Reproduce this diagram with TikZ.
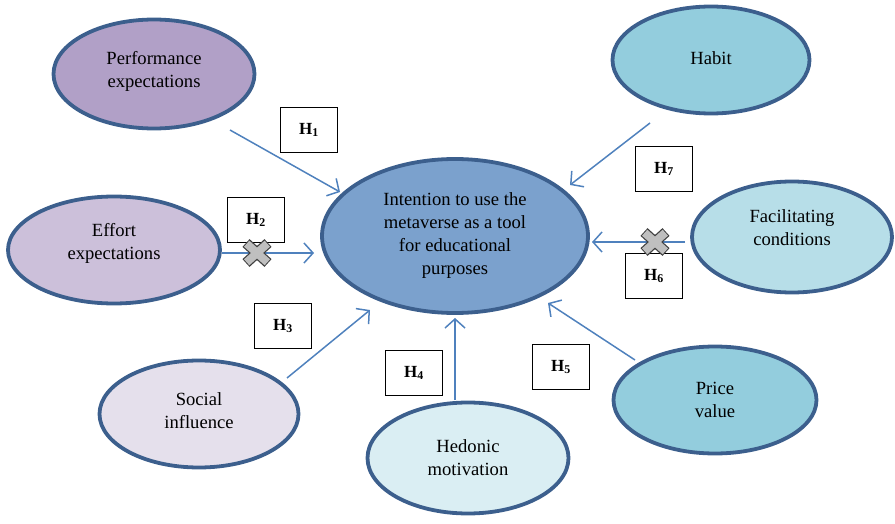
\documentclass[tikz,border=0pt]{standalone}
\usepackage{fontspec}
\setmainfont{Liberation Serif}
\usetikzlibrary{shapes.geometric,arrows.meta,calc}

\definecolor{rim}{HTML}{3C5F8D}
\definecolor{arrowblue}{HTML}{4F81BD}
\definecolor{perfcol}{HTML}{B1A0C7}
\definecolor{effcol}{HTML}{CCC0DA}
\definecolor{soccol}{HTML}{E5E0EC}
\definecolor{hedcol}{HTML}{DAEEF3}
\definecolor{pricecol}{HTML}{93CDDD}
\definecolor{faccol}{HTML}{B7DEE8}
\definecolor{habcol}{HTML}{93CDDD}
\definecolor{maincol}{HTML}{7BA1CD}
\definecolor{crossfill}{HTML}{BFBFBF}
\definecolor{crossrim}{HTML}{404040}

\tikzset{
  factor/.style={ellipse, draw=rim, line width=3.8pt, minimum width=200pt,
    minimum height=108pt, inner sep=0pt},
  factortext/.style={align=center, font=\fontsize{18.6}{23}\selectfont},
  hbox/.style={draw=black, line width=1.4pt, fill=white, minimum width=57pt,
    minimum height=45pt, inner sep=0pt, font=\fontsize{17}{20}\selectfont\bfseries},
  hyp/.style={draw=arrowblue, line width=1.5pt,
    -{Straight Barb[length=9pt,width=20pt,line width=1.5pt]}},
}

\begin{document}
\begin{tikzpicture}[x=1pt,y=-1pt]
\useasboundingbox (0,0) rectangle (895,524);

% central construct
\node [factor, fill=maincol, minimum width=266pt, minimum height=154pt,
  label={[factortext]center:Intention to use the\\metaverse as a tool\\for educational\\purposes}]
  (intent) at (455,236) {};

% determinants
\node [factor, fill=perfcol, minimum width=201pt, minimum height=109pt,
  label={[factortext, yshift=3pt]center:Performance\\expectations}] (perf) at (154,74) {};
\node [factor, fill=effcol, minimum width=212pt, minimum height=107pt,
  label={[factortext, yshift=7pt]center:Effort\\expectations}] (effort) at (114,250) {};
\node [factor, fill=soccol, minimum width=199pt, minimum height=107pt,
  label={[factortext, yshift=3pt]center:Social\\influence}] (social) at (199,414) {};
\node [factor, fill=hedcol, minimum width=201pt, minimum height=111pt,
  label={[factortext]center:Hedonic\\motivation}] (hedonic) at (468,458) {};
\node [factor, fill=pricecol, minimum width=203pt, minimum height=107pt,
  label={[factortext]center:Price\\value}] (price) at (715,400) {};
\node [factor, fill=faccol, minimum width=200pt, minimum height=111pt,
  label={[factortext, yshift=9pt]center:Facilitating\\conditions}] (facil) at (792,237) {};
\node [factor, fill=habcol, minimum width=197pt, minimum height=107pt,
  label={[factortext, yshift=2pt]center:Habit}] (habit) at (711,60) {};

% arrow end points
\coordinate (p1) at (230,130); \coordinate (q1) at (340,192);
\coordinate (p2) at (222,253); \coordinate (q2) at (314,253);
\coordinate (p3) at (287,378); \coordinate (q3) at (370,310);
\coordinate (p4) at (455,400); \coordinate (q4) at (455,318);
\coordinate (p5) at (635,360); \coordinate (q5) at (548,303);
\coordinate (p6) at (685,242); \coordinate (q6) at (592,242);
\coordinate (p7) at (650,123); \coordinate (q7) at (570,185);

\draw [hyp] (p1) -- (q1);
\draw [hyp] (p2) -- (q2);
\draw [hyp] (p3) -- (q3);
\draw [hyp] (p4) -- (q4);
\draw [hyp] (p5) -- (q5);
\draw [hyp] (p6) -- (q6);
\draw [hyp] (p7) -- (q7);

% hypothesis labels
\node [hbox] (h1) at (309,130) {H\textsubscript{1}};
\node [hbox] (h2) at (256,220) {H\textsubscript{2}};
\node [hbox] (h3) at (283,326) {H\textsubscript{3}};
\node [hbox] (h4) at (414,373) {H\textsubscript{4}};
\node [hbox] (h5) at (561,367) {H\textsubscript{5}};
\node [hbox] (h6) at (654,276) {H\textsubscript{6}};
\node [hbox] (h7) at (664,169) {H\textsubscript{7}};

% rejected hypotheses
\coordinate (x2) at (257,253);
\coordinate (x6) at (655,242);
\foreach \c in {x2,x6} {
  \draw [crossrim, line width=10.5pt] ($(\c)+(-11,-10)$) -- ($(\c)+(11,10)$)
    ($(\c)+(-11,10)$) -- ($(\c)+(11,-10)$);
  \draw [crossfill, line width=8pt] ($(\c)+(-10.3,-9.3)$) -- ($(\c)+(10.3,9.3)$)
    ($(\c)+(-10.3,9.3)$) -- ($(\c)+(10.3,-9.3)$);
}
\end{tikzpicture}
\end{document}
